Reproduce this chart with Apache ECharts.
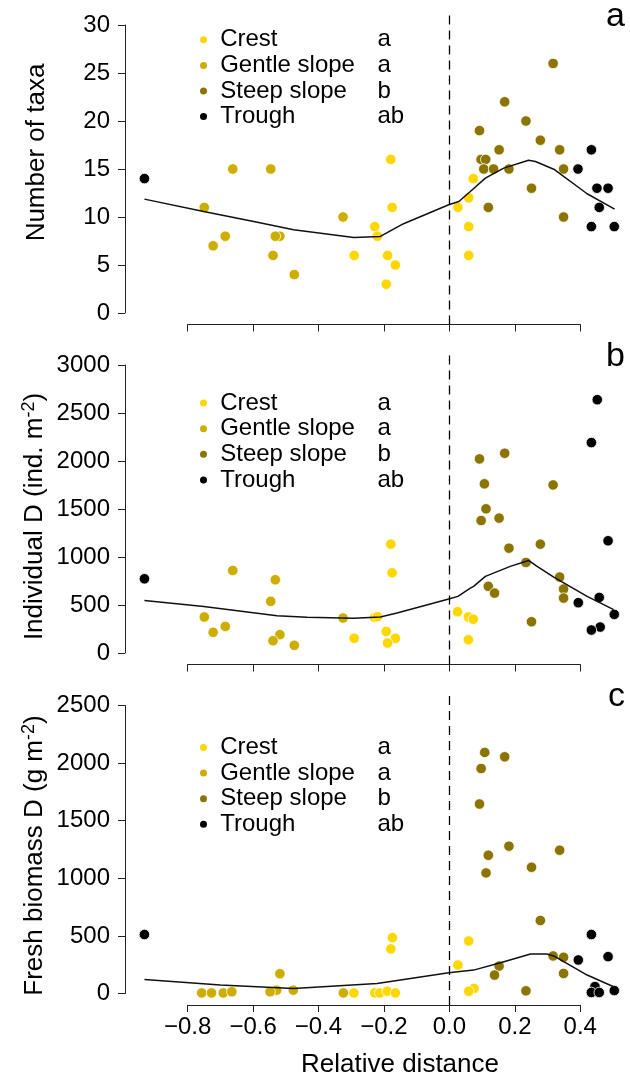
<!DOCTYPE html>
<html><head><meta charset="utf-8">
<script src="https://cdn.jsdelivr.net/npm/echarts@6/dist/echarts.min.js"></script>
<style>html,body{margin:0;padding:0;background:#fff}#chart{width:630px;height:1079px}</style>
</head><body><div id="chart"></div>
<script>
// ---------------- data ----------------
const groups = ['Crest', 'Gentle slope', 'Steep slope', 'Trough'];
const groupLetters = ['a', 'a', 'b', 'ab'];
const xTickMin = -0.8, xTickMax = 0.4, xTickStep = 0.2;
const refLineX = 0;

// panel a: Number of taxa
const taxaCrest = [[-0.179,16],[-0.175,11],[-0.228,9],[-0.220,8],[-0.291,6],[-0.189,6],[-0.165,5],[-0.193,3],[0.026,11],[0.059,12],[0.073,14],[0.059,9],[0.059,6]];
const taxaGentle = [[-0.662,15],[-0.546,15],[-0.749,11],[-0.685,8],[-0.722,7],[-0.518,8],[-0.532,8],[-0.539,6],[-0.474,4],[-0.325,10]];
const taxaSteep = [[0.097,16],[0.317,26],[0.169,22],[0.234,20],[0.092,19],[0.278,18],[0.152,17],[0.337,17],[0.111,16],[0.105,15],[0.135,15],[0.182,15],[0.349,15],[0.251,13],[0.119,11],[0.349,10]];
const taxaTrough = [[-0.932,14],[0.393,15],[0.434,17],[0.451,13],[0.485,13],[0.458,11],[0.434,9],[0.504,9]];
const taxaSmooth = [[-0.932,11.86],[-0.751,10.58],[-0.598,9.54],[-0.476,8.67],[-0.292,7.87],[-0.211,7.98],[-0.140,9.30],[-0.002,11.27],[0.029,11.62],[0.064,12.66],[0.110,14.05],[0.166,15.09],[0.242,15.92],[0.263,15.78],[0.319,14.98],[0.421,12.42],[0.505,10.82]];

// panel b: Individual density
const densCrest = [[-0.179,1134],[-0.175,836],[-0.228,370],[-0.220,378],[-0.291,153],[-0.193,225],[-0.165,153],[-0.189,104],[0.025,430],[0.058,375],[0.073,352],[0.058,138]];
const densGentle = [[-0.662,860],[-0.532,763],[-0.546,538],[-0.749,375],[-0.685,277],[-0.722,215],[-0.518,191],[-0.539,128],[-0.474,80],[-0.325,364]];
const densSteep = [[0.092,2022],[0.169,2081],[0.107,1762],[0.317,1751],[0.112,1502],[0.097,1380],[0.152,1405],[0.182,1092],[0.278,1134],[0.234,943],[0.337,791],[0.349,666],[0.349,572],[0.119,694],[0.138,624],[0.251,326]];
const densTrough = [[-0.932,773],[0.452,2639],[0.434,2192],[0.485,1169],[0.458,579],[0.394,524],[0.504,402],[0.461,270],[0.434,239]];
const densSmooth = [[-0.932,548],[-0.751,485],[-0.527,388],[-0.435,371],[-0.292,361],[-0.211,375],[-0.160,416],[-0.002,562],[0.026,590],[0.064,676],[0.074,694],[0.110,798],[0.186,902],[0.242,964],[0.268,902],[0.319,791],[0.421,590],[0.502,451]];

// panel c: Fresh biomass density
const bioCrest = [[-0.174,485],[-0.179,387],[0.059,456],[0.026,247],[0.075,44],[0.059,20],[-0.228,5],[-0.213,5],[-0.190,20],[-0.165,5],[-0.292,5]];
const bioGentle = [[-0.518,172],[-0.528,29],[-0.548,15],[-0.477,29],[-0.757,5],[-0.727,5],[-0.691,5],[-0.665,15],[-0.324,5]];
const bioSteep = [[0.108,2093],[0.169,2055],[0.097,1953],[0.092,1645],[0.182,1279],[0.119,1200],[0.337,1244],[0.112,1047],[0.251,1096],[0.278,634],[0.317,326],[0.349,314],[0.152,238],[0.138,160],[0.349,174],[0.234,23]];
const bioTrough = [[-0.932,512],[0.434,512],[0.485,320],[0.394,291],[0.445,60],[0.434,9],[0.458,9],[0.504,25]];
const bioSmooth = [[-0.932,122],[-0.700,73],[-0.476,44],[-0.221,87],[-0.002,180],[0.074,203],[0.156,267],[0.248,343],[0.298,343],[0.319,326],[0.421,160],[0.502,58]];

// ---------------- layout / style ----------------
const FONT = 'Liberation Sans, Arial, Helvetica, sans-serif';
const colors = ['#FFD700', '#CDAD00', '#8B7500', '#000000'];
const PLOT_LEFT = 125, PLOT_WIDTH = 505;
const X_MIN = -0.9914, X_MAX = 0.552;

const panels = [
  { series: [taxaCrest, taxaGentle, taxaSteep, taxaTrough], smooth: taxaSmooth,
    top: 13.5, height: 311, yLo: -1.2, yHi: 31.2, yTickMax: 30, yStep: 5,
    legendTop: 27, letter: 'a', letterY: 16.5, showX: false },
  { series: [densCrest, densGentle, densSteep, densTrough], smooth: densSmooth,
    top: 353.5, height: 311, yLo: -120, yHi: 3120, yTickMax: 3000, yStep: 500,
    legendTop: 390.3, letter: 'b', letterY: 356.5, showX: false },
  { series: [bioCrest, bioGentle, bioSteep, bioTrough], smooth: bioSmooth,
    top: 694, height: 311, yLo: -100, yHi: 2600, yTickMax: 2500, yStep: 500,
    legendTop: 734.7, letter: 'c', letterY: 696.5, showX: true }
];

const axisColor = '#222';
const pxX = PLOT_WIDTH / (X_MAX - X_MIN);
const grid = [], xAxis = [], yAxis = [], series = [], legend = [];
const graphic = [];

panels.forEach((p, i) => {
  const pxY = p.height / (p.yHi - p.yLo);
  const aLeft = PLOT_LEFT + (xTickMin - X_MIN) * pxX;
  const aWidth = (xTickMax - xTickMin) * pxX;
  const aTop = p.top + (p.yHi - p.yTickMax) * pxY;
  const aHeight = p.yTickMax * pxY;
  const xOff = (0 - p.yLo) * pxY;
  const yOff = aLeft - PLOT_LEFT;
  grid.push({ left: PLOT_LEFT, width: PLOT_WIDTH, top: p.top, height: p.height, containLabel: false, outerBoundsMode: 'none' });
  grid.push({ left: aLeft, width: aWidth, top: aTop, height: aHeight, containLabel: false, outerBoundsMode: 'none' });
  const gD = 2 * i, gA = 2 * i + 1;
  xAxis.push({ gridIndex: gD, type: 'value', min: X_MIN, max: X_MAX, show: false });
  xAxis.push({ gridIndex: gA, type: 'value', min: xTickMin, max: xTickMax, interval: xTickStep, offset: xOff,
    axisLine: { show: true, onZero: false, lineStyle: { color: axisColor, width: 1 } },
    axisTick: { show: true, length: 7, lineStyle: { color: axisColor, width: 1 } },
    splitLine: { show: false },
    axisLabel: { show: p.showX, margin: 10, fontFamily: FONT, fontSize: 24, color: '#000', showMinLabel: true, showMaxLabel: true,
      formatter: v => (v < -1e-9 ? '\u2212' : '') + Math.abs(v).toFixed(1) } });
  yAxis.push({ gridIndex: gD, type: 'value', min: p.yLo, max: p.yHi, show: false });
  yAxis.push({ gridIndex: gA, type: 'value', min: 0, max: p.yTickMax, interval: p.yStep, offset: yOff,
    axisLine: { show: true, onZero: false, lineStyle: { color: axisColor, width: 1 } },
    axisTick: { show: true, length: 7, lineStyle: { color: axisColor, width: 1 } },
    splitLine: { show: false },
    axisLabel: { show: true, margin: 15, fontFamily: FONT, fontSize: 24, color: '#000', showMinLabel: true, showMaxLabel: true,
      formatter: v => String(Math.round(v)) } });

  groups.forEach((g, k) => {
    series.push({ type: 'scatter', name: g, xAxisIndex: gD, yAxisIndex: gD, data: p.series[k],
      symbol: 'circle', symbolSize: 10.5, z: 2,
      itemStyle: { color: colors[k], borderColor: '#fff', borderWidth: 0.8, opacity: 1 },
      emphasis: { disabled: true } });
  });
  series.push({ type: 'line', name: 'smooth' + i, xAxisIndex: gD, yAxisIndex: gD, data: p.smooth,
    showSymbol: false, symbol: 'none', smooth: false, z: 3,
    lineStyle: { color: '#111', width: 1.5 },
    markLine: { silent: true, symbol: ['none', 'none'], label: { show: false },
      lineStyle: { color: '#000', width: 1.3, type: [9, 6] },
      data: [{ xAxis: refLineX }] } });

  legend.push({ orient: 'vertical', left: 200, top: p.legendTop, padding: 0, itemGap: 0,
    itemWidth: 23.4, itemHeight: 7, icon: 'circle', selectedMode: false, data: groups,
    itemStyle: { borderWidth: 0 },
    formatter: name => '{n|' + name + '}{l|' + groupLetters[groups.indexOf(name)] + '}',
    textStyle: { fontFamily: FONT, fontSize: 24, color: '#000', lineHeight: 25.6,
      rich: { n: { width: 157.3, fontFamily: FONT, fontSize: 24, lineHeight: 25.6, color: '#000' },
              l: { fontFamily: FONT, fontSize: 24, lineHeight: 25.6, color: '#000' } } } });

  graphic.push({ type: 'text', x: 625, y: p.letterY, silent: true,
    style: { text: p.letter, fontFamily: FONT, fontSize: 34, fill: '#000', align: 'right', verticalAlign: 'middle' } });
});

const titleRich = { n: { fontFamily: FONT, fontSize: 26, fill: '#000', lineHeight: 30 },
                    s: { fontFamily: FONT, fontSize: 18, fill: '#000', verticalAlign: 'top' } };
graphic.push({ type: 'text', x: 37, y: 152.5, rotation: Math.PI / 2, silent: true,
  style: { text: 'Number of taxa', fontFamily: FONT, fontSize: 26, fill: '#000', align: 'center', verticalAlign: 'middle' } });
graphic.push({ type: 'text', x: 35, y: 516.5, rotation: Math.PI / 2, silent: true,
  style: { text: '{n|Individual D (ind. m}{s|-2}{n|)}', rich: titleRich, align: 'center', verticalAlign: 'middle' } });
graphic.push({ type: 'text', x: 35, y: 855.5, rotation: Math.PI / 2, silent: true,
  style: { text: '{n|Fresh biomass D (g m}{s|-2}{n|)}', rich: titleRich, align: 'center', verticalAlign: 'middle' } });
graphic.push({ type: 'text', x: 400, y: 1065, silent: true,
  style: { text: 'Relative distance', fontFamily: FONT, fontSize: 26, fill: '#000', align: 'center', verticalAlign: 'middle' } });

const chart = echarts.init(document.getElementById('chart'), null, { renderer: 'canvas' });
chart.setOption({ animation: false, backgroundColor: '#fff', grid, xAxis, yAxis, series, legend, graphic, tooltip: { show: false } });
</script></body></html>
